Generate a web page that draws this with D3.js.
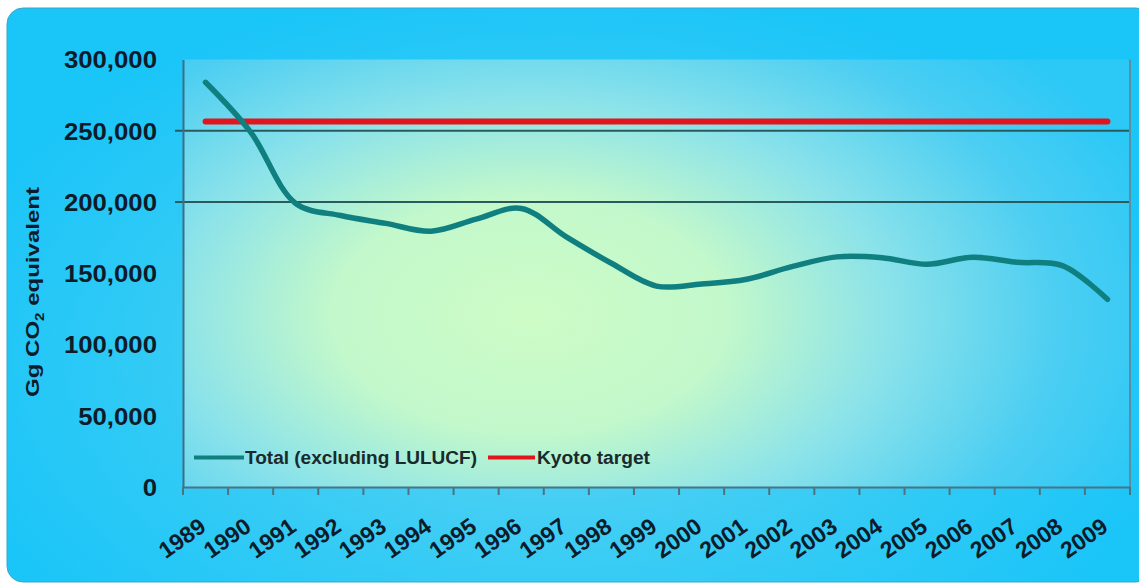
<!DOCTYPE html>
<html>
<head>
<meta charset="utf-8">
<script src="https://cdn.jsdelivr.net/npm/d3@7"></script>
<style>
  html, body { margin: 0; padding: 0; background: #ffffff; }
  svg { display: block; }
  text { font-family: "Liberation Sans", Arial, sans-serif; font-weight: bold; }
</style>
</head>
<body>
<svg id="chart" width="1139" height="584"></svg>
<script>
// Greenhouse gas emissions, Gg CO2 equivalent
const years = ["1989","1990","1991","1992","1993","1994","1995","1996","1997","1998","1999",
               "2000","2001","2002","2003","2004","2005","2006","2007","2008","2009"];
const totalExclLULUCF = [284000, 249000, 199000, 190500, 185000, 179500, 188000, 195500, 175500, 157000, 141000,
                         142500, 145800, 154600, 161500, 160900, 156300, 161200, 157700, 155300, 131700];
const kyotoTarget = [256500, 256500, 256500, 256500, 256500, 256500, 256500, 256500, 256500, 256500, 256500,
                     256500, 256500, 256500, 256500, 256500, 256500, 256500, 256500, 256500, 256500];
const yTicks = [0, 50000, 100000, 150000, 200000, 250000, 300000];
const gridValues = [200000, 250000];
const legendLabels = ["Total (excluding LULUCF)", "Kyoto target"];

const svg = d3.select("#chart");
const plot = { left: 183, right: 1130, top: 59.5, bottom: 487 };

const x = d3.scaleBand().domain(years).range([plot.left, plot.right]);
const cx = d => x(d) + x.bandwidth() / 2;
const y = d3.scaleLinear().domain([0, 300000]).range([plot.bottom, plot.top]);

// Gradients
const defs = svg.append("defs");
const outerGrad = defs.append("radialGradient").attr("id", "outerGrad")
  .attr("gradientUnits", "userSpaceOnUse").attr("cx", 560).attr("cy", 360).attr("r", 640)
  .attr("gradientTransform", "translate(560,360) scale(1,0.6) translate(-560,-360)");
[[0, "#62d4f2"], [0.6, "#34cbf5"], [1, "#1ac5f8"]].forEach(([o, c]) =>
  outerGrad.append("stop").attr("offset", o).attr("stop-color", c));

const plotGrad = defs.append("radialGradient").attr("id", "plotGrad")
  .attr("gradientUnits", "userSpaceOnUse").attr("cx", 530).attr("cy", 315).attr("r", 660)
  .attr("gradientTransform", "translate(530,315) scale(1,0.6) translate(-530,-315)");
[[0, "#cdfcc6"], [0.3, "#c2f8cb"], [0.55, "#8ae2ea"], [0.8, "#4ccef2"], [1, "#2cc8f6"]].forEach(([o, c]) =>
  plotGrad.append("stop").attr("offset", o).attr("stop-color", c));

// Chart area
svg.append("rect")
  .attr("x", 7).attr("y", 8).attr("width", 1145).attr("height", 574).attr("rx", 16)
  .attr("fill", "url(#outerGrad)").attr("stroke", "#3aa6c6").attr("stroke-width", 1);

// Plot area
svg.append("rect")
  .attr("x", plot.left).attr("y", plot.top)
  .attr("width", plot.right - plot.left).attr("height", plot.bottom - plot.top)
  .attr("fill", "url(#plotGrad)");

// Horizontal gridlines
svg.append("g").selectAll("line").data(gridValues).join("line")
  .attr("x1", plot.left - 8).attr("x2", plot.right)
  .attr("y1", d => y(d)).attr("y2", d => y(d))
  .attr("stroke", "#2b5a5c").attr("stroke-width", 2);

// Right border of plot area
svg.append("line")
  .attr("x1", plot.right).attr("x2", plot.right).attr("y1", plot.top).attr("y2", plot.bottom)
  .attr("stroke", "#5a8ea4").attr("stroke-width", 2);

// Y axis
const yAxis = svg.append("g").attr("transform", `translate(${plot.left},0)`)
  .call(d3.axisLeft(y).tickValues(yTicks).tickFormat(d3.format(",")).tickSize(0).tickPadding(26));
yAxis.select(".domain").attr("stroke", "#3e6e86").attr("stroke-width", 2);
yAxis.selectAll("text")
  .attr("fill", "#0d1b2a").style("font-size", "23px").attr("dy", "0.36em")
  .each(function () {
    const w = this.getComputedTextLength();
    d3.select(this).attr("textLength", w * 1.12).attr("lengthAdjust", "spacingAndGlyphs");
  });

// X axis with category labels
const xAxis = svg.append("g").attr("transform", `translate(0,${plot.bottom})`)
  .call(d3.axisBottom(x).tickSize(0).tickSizeOuter(0));
xAxis.select(".domain").attr("stroke", "#4a7384").attr("stroke-width", 2);
xAxis.selectAll("text")
  .attr("fill", "#0d1b2a").style("font-size", "23px").style("text-anchor", "end")
  .attr("x", 0).attr("y", 0).attr("dy", 0)
  .attr("transform", "translate(2,43) rotate(-35)");

// Tick marks between categories
const boundaries = years.map(d => x(d)).concat([x.range()[1]]);
svg.append("g").selectAll("line").data(boundaries).join("line")
  .attr("x1", d => d).attr("x2", d => d)
  .attr("y1", plot.bottom).attr("y2", plot.bottom + 8)
  .attr("stroke", "#4a7384").attr("stroke-width", 2);

// Y axis title
const yTitle = svg.append("text")
  .attr("fill", "#0d1b2a").style("font-size", "19px").attr("text-anchor", "middle");
yTitle.append("tspan").text("Gg CO");
yTitle.append("tspan").text("2").style("font-size", "12px").attr("dy", 5);
yTitle.append("tspan").text(" equivalent").attr("dy", -5);
{
  const w = yTitle.node().getComputedTextLength();
  yTitle.attr("transform", `translate(39,292) rotate(-90) scale(${210 / w},1)`);
}

// Series
const line = d3.line()
  .x((d, i) => cx(years[i]))
  .y(d => y(d))
  .curve(d3.curveCatmullRom.alpha(0.5));

svg.append("path").datum(kyotoTarget)
  .attr("d", line).attr("fill", "none")
  .attr("stroke", "#e2141c").attr("stroke-width", 6).attr("stroke-linecap", "round");

svg.append("path").datum(totalExclLULUCF)
  .attr("d", line).attr("fill", "none")
  .attr("stroke", "#0f7f80").attr("stroke-width", 5.5)
  .attr("stroke-linecap", "round").attr("stroke-linejoin", "round");

// Legend
const legend = svg.append("g");
const legendItems = [
  { label: legendLabels[0], color: "#0f7f80", x1: 194, x2: 244, tx: 245, tw: 232 },
  { label: legendLabels[1], color: "#e2141c", x1: 488, x2: 535, tx: 537, tw: 113 }
];
legendItems.forEach(it => {
  legend.append("line")
    .attr("x1", it.x1).attr("x2", it.x2).attr("y1", 457.5).attr("y2", 457.5)
    .attr("stroke", it.color).attr("stroke-width", 4);
  legend.append("text")
    .attr("x", it.tx).attr("y", 463.5)
    .attr("fill", "#1a2a2c").style("font-size", "18px")
    .attr("textLength", it.tw).attr("lengthAdjust", "spacingAndGlyphs")
    .text(it.label);
});
</script>
</body>
</html>
